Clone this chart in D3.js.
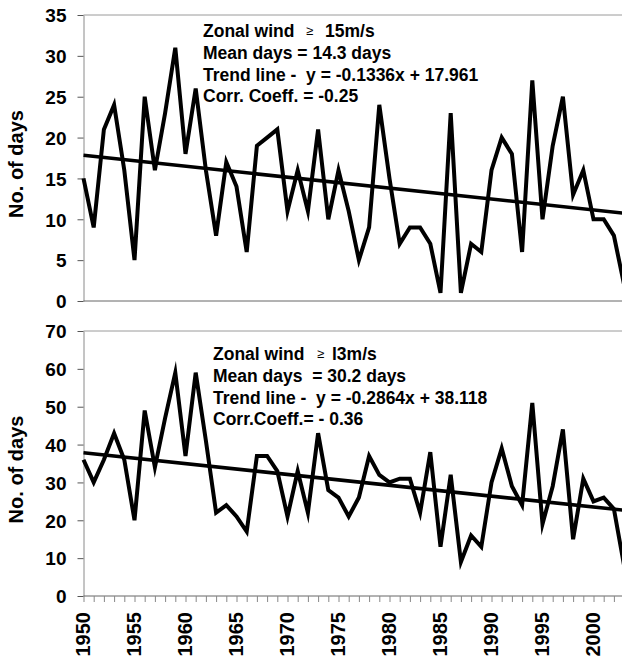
<!DOCTYPE html>
<html>
<head>
<meta charset="utf-8">
<script src="https://cdn.jsdelivr.net/npm/d3@7/dist/d3.min.js"></script>
<style>
  body { margin: 0; background: #fff; }
  svg { display: block; }
  text { font-family: "Liberation Sans", Arial, Helvetica, sans-serif; font-weight: bold; fill: #000; }
</style>
</head>
<body>
<svg id="chart" width="622" height="665"></svg>
<script>
// Years of record
const years = [1950,1951,1952,1953,1954,1955,1956,1957,1958,1959,
               1960,1961,1962,1963,1964,1965,1966,1967,1968,1969,
               1970,1971,1972,1973,1974,1975,1976,1977,1978,1979,
               1980,1981,1982,1983,1984,1985,1986,1987,1988,1989,
               1990,1991,1992,1993,1994,1995,1996,1997,1998,1999,
               2000,2001,2002,2003];

// Days per year with zonal wind >= 15 m/s
const days15 = [15,9,21,24,16,5,25,16,23,31,
                18,26,16,8,17,14,6,19,20,21,
                11,16,11,21,10,16,11,5,9,24,
                15,7,9,9,7,1,23,1,7,6,
                16,20,18,6,27,10,19,25,13,16,
                10,10,8,2];

// Days per year with zonal wind >= 13 m/s
const days13 = [36,30,36,43,36,20,49,34,47,59,
                37,59,41,22,24,21,17,37,37,33,
                21,33,22,43,28,26,21,26,37,32,
                30,31,31,22,38,13,32,9,16,13,
                30,39,29,24,51,19,29,44,15,31,
                25,26,23,8];

// Linear trends, [slope, intercept] with x = 1 for the first year
const trend15 = [-0.1336, 17.961];
const trend13 = [-0.2864, 38.118];

// Axis labels
const yearLabels = ["1950","1955","1960","1965","1970","1975","1980","1985","1990","1995","2000"];
const ticks15 = [0,5,10,15,20,25,30,35];
const ticks13 = [0,10,20,30,40,50,60,70];

// Statistics boxes: each row is [text, symbol, text after symbol]
const notes15 = [
  ["Zonal wind", "\u2265", "15m/s"],
  ["Mean days = 14.3 days"],
  ["Trend line -  y = -0.1336x + 17.961"],
  ["Corr. Coeff. = -0.25"]
];
const notes13 = [
  ["Zonal wind", "\u2265", "l3m/s"],
  ["Mean days  = 30.2 days"],
  ["Trend line -  y = -0.2864x + 38.118"],
  ["Corr.Coeff.= - 0.36"]
];

const svg = d3.select("#chart");
const x = d3.scaleLinear().domain([1950, 2003]).range([83.5, 83.5 + 53 * 10.2]);
const xRight = 622;

function panel(opts) {
  const y = d3.scaleLinear().domain(opts.domain).range(opts.range);
  const g = svg.append("g");
  const top = opts.range[1], bottom = opts.range[0];

  // top border of the plot frame
  g.append("line").attr("x1", x(1950)).attr("x2", xRight).attr("y1", top).attr("y2", top)
    .attr("stroke", "#9a9a9a").attr("stroke-width", 1);

  // value axis
  const yAxis = g.append("g").attr("transform", `translate(${x(1950)},0)`)
    .call(d3.axisLeft(y).tickValues(opts.ticks).tickSize(6).tickPadding(11).tickSizeOuter(0));
  yAxis.select(".domain").attr("stroke", "#8a8a8a");
  yAxis.selectAll(".tick line").attr("stroke", "#555");
  yAxis.selectAll("text").style("font-size", "19px").attr("dy", "0.36em");

  // year axis
  const xAxis = g.append("g").attr("transform", `translate(0,${bottom})`)
    .call(d3.axisBottom(x).tickValues(opts.yearTicks ? years : []).tickSize(6).tickFormat("").tickSizeOuter(0));
  xAxis.select(".domain").attr("stroke", "#666").attr("d", `M${x(1950)},0H${xRight}`);
  xAxis.selectAll(".tick line").attr("stroke", "#888");

  // axis title
  g.append("text")
    .attr("transform", `translate(23,${(top + bottom) / 2 + 6}) rotate(-90)`)
    .attr("text-anchor", "middle")
    .style("font-size", "20px")
    .text("No. of days");

  // fitted trend
  const t = opts.trend;
  g.append("path")
    .datum([years[0], years[years.length - 1]])
    .attr("fill", "none").attr("stroke", "#000").attr("stroke-width", 3.6)
    .attr("d", d3.line().x(d => x(d)).y(d => y(t[0] * (d - years[0] + 1) + t[1])));

  // yearly series
  g.append("path")
    .datum(opts.values)
    .attr("fill", "none").attr("stroke", "#000").attr("stroke-width", 4)
    .attr("stroke-linejoin", "miter").attr("stroke-miterlimit", 6)
    .attr("d", d3.line().x((d, i) => x(years[i])).y(d => y(d)));

  // statistics text
  const note = g.append("g");
  opts.notes.forEach((row, i) => {
    const ty = opts.noteY + i * 21.8;
    note.append("text").attr("x", opts.noteX).attr("y", ty)
      .style("font-size", "17.5px").attr("xml:space", "preserve").text(row[0]);
    if (row.length > 1) {
      note.append("text").attr("x", opts.symX).attr("y", ty - 2)
        .style("font-size", "13px").style("font-weight", "normal").attr("fill", "#222")
        .text(row[1]);
      note.append("text").attr("x", opts.unitX).attr("y", ty)
        .style("font-size", "17.5px").text(row[2]);
    }
  });
  return y;
}

panel({ domain: [0, 35], range: [301, 15], ticks: ticks15, values: days15, trend: trend15,
        notes: notes15, noteX: 203, noteY: 37, symX: 306, unitX: 325, yearTicks: false });
panel({ domain: [0, 70], range: [596, 331], ticks: ticks13, values: days13, trend: trend13,
        notes: notes13, noteX: 213, noteY: 360, symX: 317, unitX: 332, yearTicks: true });

// rotated year labels under the lower panel
svg.append("g").selectAll("text")
  .data(yearLabels)
  .join("text")
  .attr("transform", d => `translate(${x(+d) + 6},612) rotate(-90)`)
  .attr("text-anchor", "end")
  .style("font-size", "20px")
  .text(d => d);
</script>
</body>
</html>
